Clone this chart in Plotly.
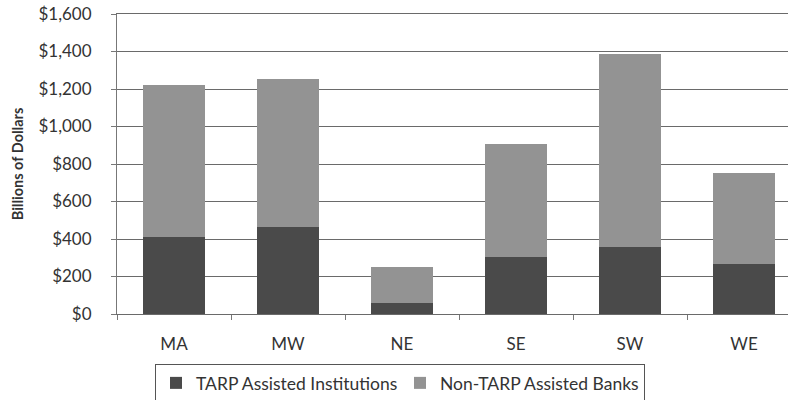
import plotly.graph_objects as go

regions = ["MA", "MW", "NE", "SE", "SW", "WE"]
tarp = [409, 466, 60, 306, 359, 265]
totals = [1221, 1253, 249, 905, 1387, 750]
non_tarp = [t - a for t, a in zip(totals, tarp)]
y_ticks = [0, 200, 400, 600, 800, 1000, 1200, 1400, 1600]
y_tick_labels = ["$0", "$200", "$400", "$600", "$800", "$1,000", "$1,200", "$1,400", "$1,600"]

font_family = "Lato, 'Open Sans', sans-serif"

W, H = 788, 400

fig = go.Figure()
fig.add_trace(go.Bar(x=regions, y=tarp, name="TARP Assisted Institutions",
                     marker=dict(color="#4a4a4a", line=dict(width=0)), width=0.55))
fig.add_trace(go.Bar(x=regions, y=non_tarp, name="Non-TARP Assisted Banks",
                     marker=dict(color="#939393", line=dict(width=0)), width=0.55))

fig.update_layout(
    barmode="stack",
    width=W, height=H,
    margin=dict(l=117, r=0, t=14, b=H - 314, autoexpand=False),
    paper_bgcolor="white", plot_bgcolor="white",
    font=dict(family=font_family, size=17, color="#333333"),
    showlegend=True,
    legend=dict(orientation="h", xref="container", yref="container",
                x=155/W, y=1-364/H, xanchor="left", yanchor="top",
                bordercolor="#555555", borderwidth=1,
                font=dict(size=17.5, color="#333333"), itemwidth=30,
                entrywidth=199, entrywidthmode="pixels",
                traceorder="normal"),
    xaxis=dict(range=[-0.5, 5.386], tickson="boundaries", ticks="outside",
               ticklen=5, tickcolor="#777777", showgrid=False, automargin=False,
               showline=True, linecolor="#6a6a6a", linewidth=1, mirror=True,
               tickfont=dict(size=17, color="#333333"), ticklabelstandoff=15),
    yaxis=dict(range=[0, 1600], tickvals=y_ticks, ticktext=y_tick_labels,
               ticks="outside", ticklen=5, tickcolor="#777777", automargin=False,
               ticklabeloverflow="allow",
               showgrid=True, gridcolor="#6a6a6a", gridwidth=1,
               showline=True, linecolor="#777777", linewidth=1, zeroline=False,
               tickfont=dict(size=17, color="#333333"), ticklabelstandoff=16,
               title=dict(text="<b>Billions of Dollars</b>", font=dict(size=14.5, color="#333333"),
                          standoff=11)),
)

fig.write_html("out.html", config={"displayModeBar": False},
               post_script="document.body.style.margin='0';document.body.style.overflow='hidden';")
